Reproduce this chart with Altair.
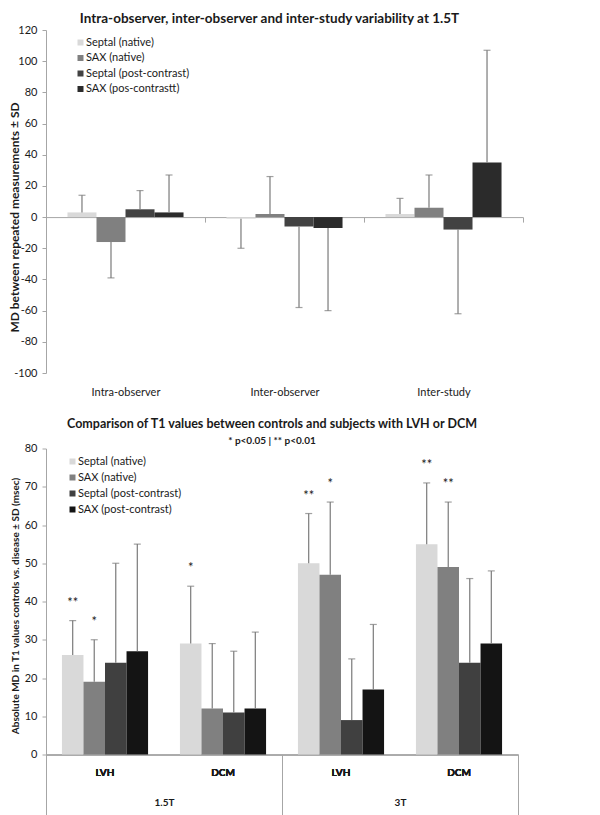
import altair as alt
import pandas as pd

FONT = "Lato"
AXIS_GRAY = "#a6a6a6"
ERR_GRAY = "#7a7a7a"
TEXT = "#1a1a1a"

# ---------------- top chart data ----------------
top_categories = ["Intra-observer", "Inter-observer", "Inter-study"]
top_series = ["Septal (native)", "SAX (native)", "Septal (post-contrast)", "SAX (pos-contrastt)"]
top_colors = ["#d9d9d9", "#808080", "#424242", "#2b2b2b"]

top_md_septal_native = [3, -1, 2]
top_md_sax_native = [-16, 2, 6]
top_md_septal_post = [5, -6, -8]
top_md_sax_post = [3, -7, 35]

top_end_septal_native = [14, -20, 12]
top_end_sax_native = [-39, 26, 27]
top_end_septal_post = [17, -58, -62]
top_end_sax_post = [27, -60, 107]

top_y_ticks = [-100, -80, -60, -40, -20, 0, 20, 40, 60, 80, 100, 120]

# ---------------- bottom chart data ----------------
bot_groups = ["1.5T|LVH", "1.5T|DCM", "3T|LVH", "3T|DCM"]
bot_field = ["1.5T", "3T"]
bot_series = ["Septal (native)", "SAX (native)", "Septal (post-contrast)", "SAX (post-contrast)"]
bot_colors = ["#d9d9d9", "#808080", "#404040", "#141414"]

bot_md_septal_native = [26, 29, 50, 55]
bot_md_sax_native = [19, 12, 47, 49]
bot_md_septal_post = [24, 11, 9, 24]
bot_md_sax_post = [27, 12, 17, 29]

bot_end_septal_native = [35, 44, 63, 71]
bot_end_sax_native = [30, 29, 66, 66]
bot_end_septal_post = [50, 27, 25, 46]
bot_end_sax_post = [55, 32, 34, 48]

bot_star_septal_native = ["**", "*", "**", "**"]
bot_star_sax_native = ["*", "", "*", "**"]
bot_star_septal_post = ["", "", "", ""]
bot_star_sax_post = ["", "", "", ""]

bot_y_ticks = [0, 10, 20, 30, 40, 50, 60, 70, 80]

# ---------------- tables ----------------
top_rows = []
for s, md, en in zip(top_series,
                     [top_md_septal_native, top_md_sax_native, top_md_septal_post, top_md_sax_post],
                     [top_end_septal_native, top_end_sax_native, top_end_septal_post, top_end_sax_post]):
    for c, m, e in zip(top_categories, md, en):
        top_rows.append({"cat": c, "series": s, "md": m, "end": e})
top_df = pd.DataFrame(top_rows)

bot_rows = []
for s, md, en, st in zip(bot_series,
                         [bot_md_septal_native, bot_md_sax_native, bot_md_septal_post, bot_md_sax_post],
                         [bot_end_septal_native, bot_end_sax_native, bot_end_septal_post, bot_end_sax_post],
                         [bot_star_septal_native, bot_star_sax_native, bot_star_septal_post, bot_star_sax_post]):
    for g, m, e, t in zip(bot_groups, md, en, st):
        bot_rows.append({"grp": g, "series2": s, "md": m, "end": e, "star": t})
bot_df = pd.DataFrame(bot_rows)
field_df = pd.DataFrame({"field": bot_field})

# ---------------- top chart ----------------
TOP_W, TOP_H = 477, 343
ymin, ymax = top_y_ticks[0], top_y_ticks[-1]
zero_offset = -TOP_H * (0 - ymin) / (ymax - ymin)

tx = alt.X("cat:N", sort=top_categories,
           scale=alt.Scale(paddingInner=0, paddingOuter=0),
           axis=alt.Axis(title=None, orient="bottom", offset=zero_offset, tickBand="extent",
                         tickSize=5, tickColor=AXIS_GRAY, domainColor=AXIS_GRAY,
                         labelPadding=164, labelAngle=0, labelFont=FONT, labelFontSize=11,
                         labelColor=TEXT))
txo = alt.XOffset("series:N", sort=top_series, scale=alt.Scale(paddingOuter=0.74, paddingInner=0))
ty_scale = alt.Scale(domain=[ymin, ymax], nice=False)
ty_axis = alt.Axis(values=top_y_ticks, grid=False, tickSize=4, tickColor=AXIS_GRAY,
                   domainColor=AXIS_GRAY, labelPadding=5, labelFont=FONT, labelFontSize=11,
                   labelColor=TEXT, labelOverlap=False, labelExpr="'' + datum.value",
                   title="MD between repeated measurements ± SD",
                   titleFont=FONT, titleFontSize=12, titleFontWeight="bold", titleColor=TEXT,
                   titleX=-32, titleY=187, titleAngle=-90, titleAlign="center",
                   titleBaseline="middle")

top_base = alt.Chart(top_df)
top_bars = top_base.mark_bar().encode(
    x=tx, xOffset=txo,
    y=alt.Y("md:Q", scale=ty_scale, axis=ty_axis),
    color=alt.Color("series:N", sort=top_series,
                    scale=alt.Scale(domain=top_series, range=top_colors),
                    legend=alt.Legend(title=None, orient="none", legendX=29, legendY=7,
                                      symbolType="square", symbolSize=36, symbolStrokeWidth=0,
                                      labelFont=FONT, labelFontSize=11, labelColor=TEXT,
                                      rowPadding=3.5, labelOffset=0, padding=0)),
)
top_err = top_base.mark_rule(color=ERR_GRAY, strokeWidth=1.2).encode(
    x=tx, xOffset=txo, y=alt.Y("md:Q", scale=ty_scale, axis=ty_axis), y2="end:Q")
top_cap = top_base.mark_tick(color=ERR_GRAY, thickness=1.2, size=7).encode(
    x=tx, xOffset=txo, y=alt.Y("end:Q", scale=ty_scale, axis=ty_axis))

top_chart = alt.layer(top_bars, top_err, top_cap).properties(
    width=TOP_W, height=TOP_H,
    title=alt.TitleParams("Intra-observer, inter-observer and inter-study variability at 1.5T",
                          font=FONT, fontSize=13.5, fontWeight="bold", color=TEXT,
                          anchor="middle", frame="group", dx=-15, offset=-1))

# ---------------- bottom chart ----------------
BOT_W, BOT_H = 472, 306
bx = alt.X("grp:N", sort=bot_groups,
           scale=alt.Scale(paddingInner=0, paddingOuter=0),
           axis=alt.Axis(title=None, orient="bottom", ticks=False, domainColor=AXIS_GRAY,
                         labelExpr="split(datum.label, '|')[1]", labelPadding=13, labelAngle=0,
                         labelFont=FONT, labelFontSize=10, labelFontWeight="bold",
                         labelColor=TEXT))
bxo = alt.XOffset("series2:N", sort=bot_series, scale=alt.Scale(paddingOuter=0.74, paddingInner=0))
by_scale = alt.Scale(domain=[bot_y_ticks[0], bot_y_ticks[-1]], nice=False)
by_axis = alt.Axis(values=bot_y_ticks, grid=False, tickSize=4, tickColor=AXIS_GRAY,
                   domainColor=AXIS_GRAY, labelPadding=5, labelFont=FONT, labelFontSize=11,
                   labelColor=TEXT, labelOverlap=False,
                   title="Absolute MD in T1 values controls vs. disease ± SD (msec)",
                   titleFont=FONT, titleFontSize=10, titleFontWeight="bold", titleColor=TEXT,
                   titleX=-31, titleY=157, titleAngle=-90, titleAlign="center",
                   titleBaseline="middle")

bot_base = alt.Chart(bot_df)
bot_bars = bot_base.mark_bar().encode(
    x=bx, xOffset=bxo,
    y=alt.Y("md:Q", scale=by_scale, axis=by_axis),
    color=alt.Color("series2:N", sort=bot_series,
                    scale=alt.Scale(domain=bot_series, range=bot_colors),
                    legend=alt.Legend(title=None, orient="none", legendX=21, legendY=7.5,
                                      symbolType="square", symbolSize=36, symbolStrokeWidth=0,
                                      labelFont=FONT, labelFontSize=11, labelColor=TEXT,
                                      rowPadding=4, labelOffset=0, padding=0)),
)
bot_err = bot_base.mark_rule(color=ERR_GRAY, strokeWidth=1.2).encode(
    x=bx, xOffset=bxo, y=alt.Y("md:Q", scale=by_scale, axis=by_axis), y2="end:Q")
bot_cap = bot_base.mark_tick(color=ERR_GRAY, thickness=1.2, size=7).encode(
    x=bx, xOffset=bxo, y=alt.Y("end:Q", scale=by_scale, axis=by_axis))
bot_stars = bot_base.mark_text(dy=-14, baseline="alphabetic", font=FONT, fontSize=13,
                               color=TEXT).encode(
    x=bx, xOffset=bxo, y=alt.Y("end:Q", scale=by_scale, axis=by_axis), text="star:N")

field_axis = alt.Chart(field_df).mark_rule(opacity=0).encode(
    x=alt.X("field:N", sort=bot_field, scale=alt.Scale(paddingInner=0, paddingOuter=0),
            axis=alt.Axis(title=None, orient="bottom", tickBand="extent", tickSize=61,
                          tickColor=AXIS_GRAY, domain=False, labelPadding=-18, labelAngle=0,
                          labelFont=FONT, labelFontSize=10, labelFontWeight="bold",
                          labelColor=TEXT)))

bot_chart = alt.layer(bot_bars, bot_err, bot_cap, bot_stars, field_axis).resolve_scale(
    x="independent").properties(
    width=BOT_W, height=BOT_H,
    title=alt.TitleParams("Comparison of T1 values between controls and subjects with LVH or DCM",
                          subtitle="* p<0.05 | ** p<0.01",
                          font=FONT, fontSize=12.5, fontWeight="bold", color=TEXT,
                          subtitleFont=FONT, subtitleFontSize=10, subtitleFontWeight="bold",
                          subtitleColor=TEXT, subtitlePadding=5,
                          anchor="middle", frame="group", dx=-10, offset=-3))

chart = alt.vconcat(top_chart, bot_chart, spacing=19.5).resolve_scale(
    color="independent", xOffset="independent").properties(
    padding={"left": 0, "top": 3, "right": 5, "bottom": 0}
).configure_view(stroke=None).configure_axis(labelOverlap=False)

chart.save("out.html", embed_options={"renderer": "svg", "actions": False})
